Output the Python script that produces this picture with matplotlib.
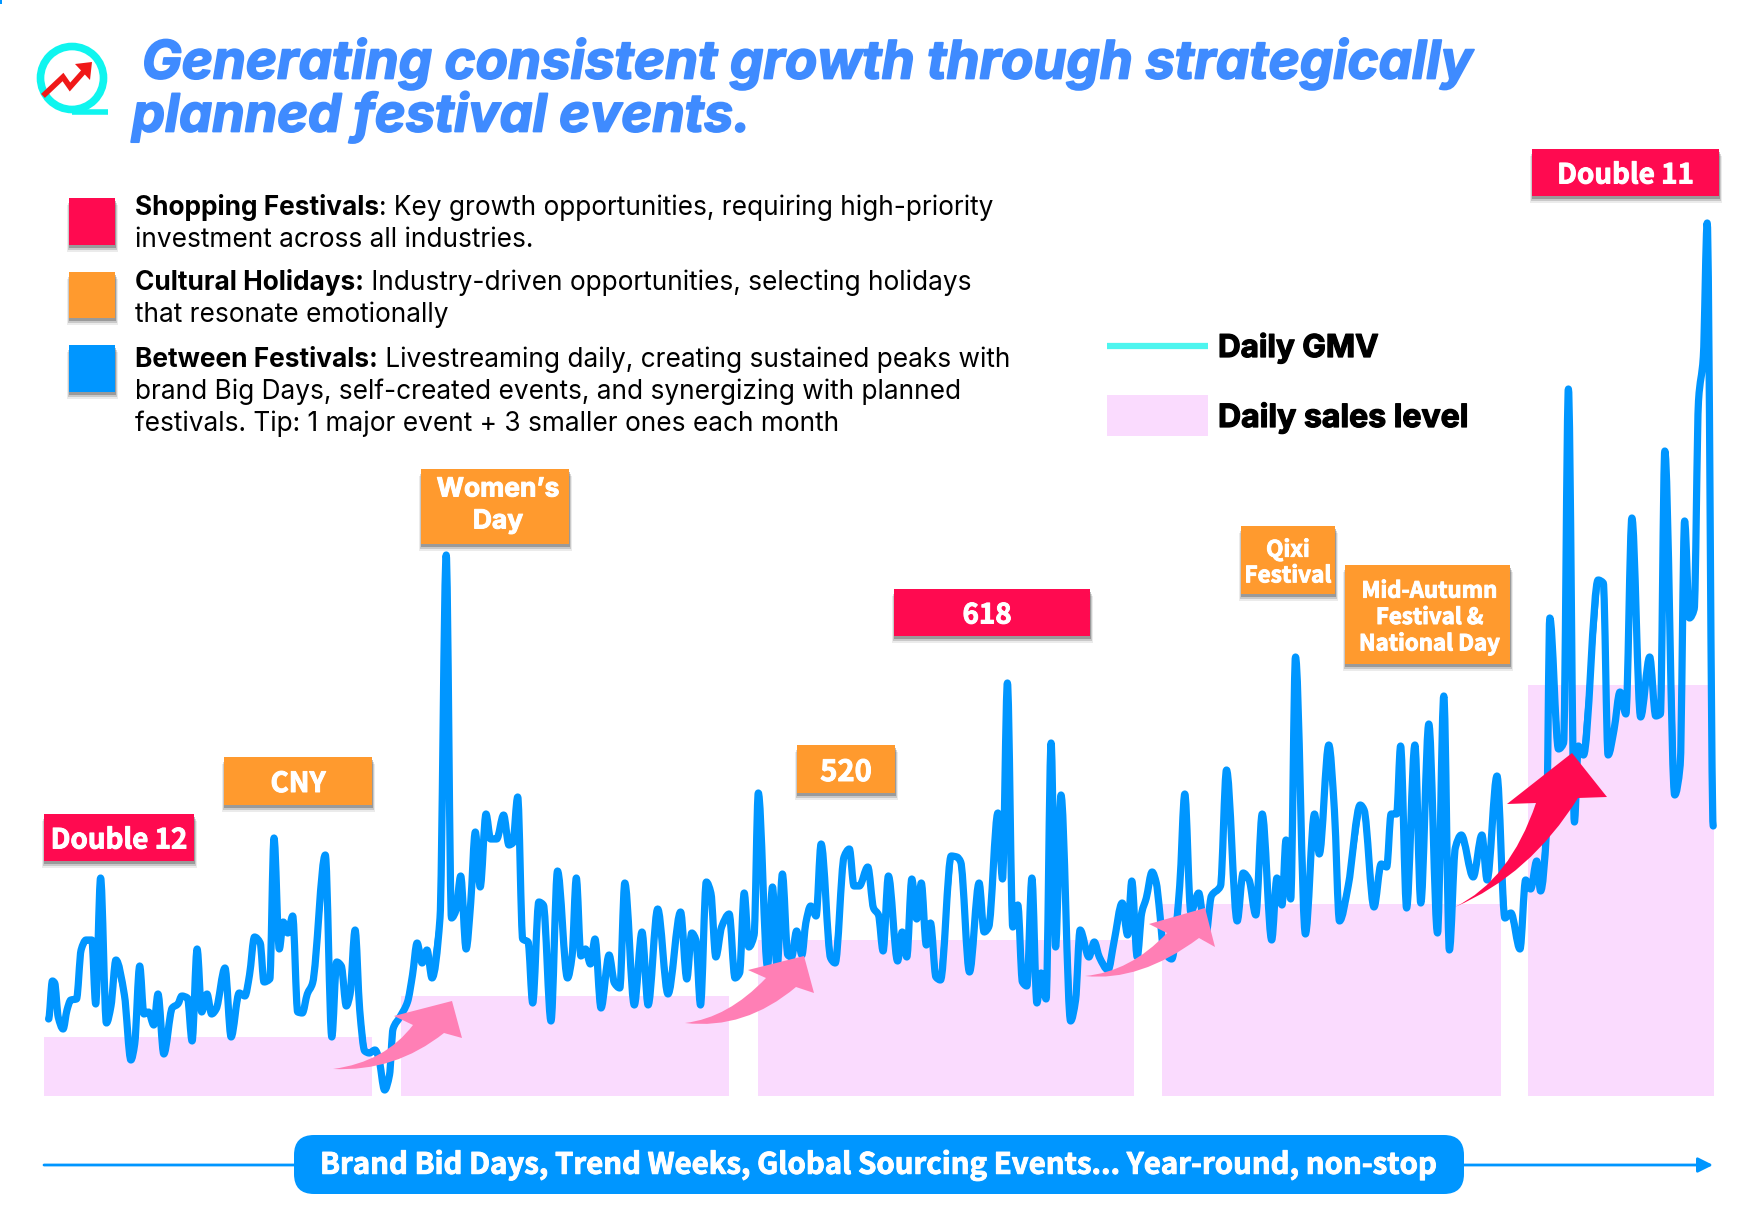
import matplotlib
matplotlib.use("Agg")
import matplotlib.pyplot as plt
import matplotlib.patheffects as pe
from matplotlib.patches import Rectangle, FancyBboxPatch, PathPatch, Circle
from matplotlib.path import Path

gmv_day = [48.6,52.4,54.7,58.2,63.1,67,70.8,76.5,81.1,86.1,91.8,95.7,100.6,106.4,111,115.9,124.4,130.9,134.7,139.7,143.9,148.5,153.8,158,163.8,172.2,177.9,181.8,187.5,192.1,197.1,201.7,207,211.6,216.2,225,231.1,239.2,244.9,249.5,254.5,260.2,264,269.8,274,279.3,283.2,287.8,292.7,297.7,302.3,307.3,312.6,325.3,331.8,336.7,341.3,346.3,350.1,355.1,359.7,364.7,369.3,375,378.8,384.6,389.5,393,399.9,407.5,412.5,417.1,422.1,427,432,440,446.2,451.5,456.1,460.7,466.1,470.7,475.3,480.2,486,490.6,496.7,503.6,508.9,512.8,517.7,522.7,528.1,532.7,538.8,543.4,551,557.5,567.5,572.1,576.3,580.9,585.5,590.4,595,601,609.1,614.4,619.8,624.8,634.3,642,648.1,657.7,668,680.6,686.8,691.7,695.9,700.5,706.3,710.9,715.8,721.6,729.2,735,739.6,744.2,748.8,754.1,758.3,767.5,772.5,777.1,782.4,787.8,791.6,796.6,801.9,805.8,810.7,816.1,821.1,830.6,835.2,844,849.4,854,859.3,867.8,873.5,878.5,883.1,888.4,897.6,902.2,906.8,911.8,916.7,921.3,926.3,930.5,935.9,940.5,951.2,956.9,960.7,969.5,979.1,984.1,988.7,997.9,1002.5,1007.4,1012.8,1017.8,1022.4,1026.9,1031.9,1036.9,1041.1,1046.1,1051.1,1055.6,1061,1070.6,1075.6,1080.1,1088.9,1094.3,1099.3,1108.1,1113.8,1122.2,1127.6,1131.8,1137.2,1141.7,1146.3,1152.1,1156.3,1159,1163.8,1171.7,1179.7,1184.8,1190.8,1198.7,1205.5,1211.4,1220.5,1226.5,1237.2,1243.1,1249.1,1255.8,1262.2,1271.7,1276.9,1282,1286,1290.7,1295.5,1305.4,1314.5,1319.3,1328.8,1334.4,1339.5,1348.2,1360.2,1364.1,1374,1381.2,1386.7,1391.1,1396.6,1400.6,1406.6,1414.9,1420.8,1428.8,1437.5,1443.8,1449.4,1455.3,1461.3,1473.2,1481.9,1487.1,1497,1504.9,1510.9,1520,1525.6,1530.7,1536.7,1540.6,1546.6,1549.8,1558.5,1563.6,1568.4,1574.4,1578.3,1583.5,1598.1,1603.3,1608.1,1614,1620,1625.9,1631.9,1640.6,1649.7,1655.7,1660.4,1664.8,1674.7,1680.2,1684.6,1689.4,1694.2,1698.5,1703.3,1707.2,1713.2]
gmv_value = [77,115,113,79,67,86,96,97,146,156,156,92,218,73,90,136,101,36,52,130,82,84,71,102,42,88,92,100,98,55,147,84,102,82,87,128,59,103,100,121,159,153,114,117,258,147,174,163,180,84,83,102,113,241,59,134,130,90,102,166,86,45,43,46,38,6,21,67,79,94,121,153,133,146,118,178,541,178,186,220,147,193,264,209,282,257,257,281,251,253,299,157,154,93,194,191,75,225,118,140,218,140,147,132,157,88,141,113,108,213,91,164,91,187,102,184,117,163,156,91,214,203,139,169,182,118,123,203,149,161,303,129,209,128,222,141,139,165,141,173,190,180,252,138,133,239,247,210,210,229,188,181,145,220,135,164,139,217,177,213,151,173,119,116,240,239,234,124,213,164,169,283,217,413,169,191,114,110,218,93,123,97,353,149,301,75,96,166,139,154,139,126,153,193,161,215,139,183,198,224,213,191,146,137,210,302,184,203,159,200,210,326,175,223,216,181,282,156,218,191,256,197,439,162,282,242,351,286,175,210,291,286,189,232,229,282,282,350,188,351,193,372,163,400,146,248,261,219,261,216,320,178,183,147,216,207,235,205,267,478,347,353,707,274,350,341,516,513,341,366,404,382,578,379,439,380,382,645,301,331,575,478,487,695,739,873,270]

band_start = [44, 401, 758, 1162, 1527.5]
band_end = [372, 729, 1133.5, 1501, 1713.5]
band_level = [59, 100, 156, 192, 411]

title_lines = ["Generating consistent growth through strategically", "planned festival events."]
legend_bold = ["Shopping Festivals", "Cultural Holidays:", "Between Festivals:"]
legend_rest = [": Key growth opportunities, requiring high-priority", " Industry-driven opportunities, selecting holidays", " Livestreaming daily, creating sustained peaks with"]
legend_plain = ["investment across all industries.", "that resonate emotionally", "brand Big Days, self-created events, and synergizing with planned", "festivals. Tip: 1 major event + 3 smaller ones each month"]
tag_labels = ["Double 12", "CNY", "Women’s\nDay", "520", "618", "Qixi\nFestival", "Mid-Autumn\nFestival &\nNational Day", "Double 11"]
banner_label = "Brand Bid Days, Trend Weeks, Global Sourcing Events... Year-round, non-stop"

RED, ORANGE, BLUE = "#ff0a50", "#ff9a2e", "#0096ff"
PINK, ARROW_PINK, TITLE = "#fadbfe", "#ff7fb5", "#3f8bff"
BASE = 1096

fig = plt.figure(figsize=(17.62, 12.26), dpi=100, facecolor="white")
ax = fig.add_axes([0, 0, 1, 1])
ax.set_xlim(0, 1762)
ax.set_ylim(BASE - 1226, BASE)
ax.axis("off")
rend = fig.canvas.get_renderer()

def Y(py):
    return BASE - py

def heavy(t, w, color):
    t.set_path_effects([pe.withStroke(linewidth=w, foreground=color)])

def fit(x, py, s, width, color="black", family="Inter", weight="normal", style="normal", ha="left", z=10, size=20, stroke=0):
    t = ax.text(x, Y(py), s, color=color, family=family, weight=weight, style=style, ha=ha, va="center", fontsize=size, zorder=z)
    w = t.get_window_extent(rend).width
    t.set_fontsize(size * width / w)
    if stroke:
        heavy(t, stroke, color)
    return t

def box(x0, x1, y0, y1, color, z=5):
    for grow, drop, a in ((2.5, 7, 0.10), (1.5, 5, 0.20), (0.5, 3, 0.35)):
        ax.add_patch(Rectangle((x0 - grow, Y(y1 + drop)), x1 - x0 + 2 * grow, y1 - y0, fc="#444444", ec="none", alpha=a, zorder=z))
    ax.add_patch(Rectangle((x0, Y(y1)), x1 - x0, y1 - y0, fc=color, ec="none", zorder=z + 0.5))

# sales-level blocks
ax.bar(band_start, band_level, width=[e - s for s, e in zip(band_start, band_end)], align="edge", color=PINK, zorder=1)

# daily GMV: the traced polyline, with a rounded curve through the same points on top
ax.plot(gmv_day, gmv_value, color=BLUE, lw=3.5, solid_joinstyle="round", solid_capstyle="round", zorder=3)
def smooth_path(xs, ys):
    n = len(xs)
    slopes = []
    for i in range(n):
        if i == 0 or i == n - 1:
            slopes.append(0.0)
            continue
        a, b = ys[i] - ys[i - 1], ys[i + 1] - ys[i]
        if a * b <= 0:
            slopes.append(0.0)
        else:
            d0, d1 = a / (xs[i] - xs[i - 1]), b / (xs[i + 1] - xs[i])
            slopes.append(2 * d0 * d1 / (d0 + d1))
    verts, codes = [(xs[0], ys[0])], [Path.MOVETO]
    for i in range(n - 1):
        h = (xs[i + 1] - xs[i]) / 3
        verts += [(xs[i] + h, ys[i] + slopes[i] * h), (xs[i + 1] - h, ys[i + 1] - slopes[i + 1] * h), (xs[i + 1], ys[i + 1])]
        codes += [Path.CURVE4] * 3
    return Path(verts, codes)
ax.add_patch(PathPatch(smooth_path(gmv_day, gmv_value), fc="none", ec=BLUE, lw=5.2, joinstyle="round", capstyle="round", zorder=3))

# growth arrows
def arrow(pts, color):
    tail, c1, neck, b1, tip, b2, inner, c2 = pts
    verts = [tail, c1, neck, b1, tip, b2, inner, c2, tail, tail]
    codes = [Path.MOVETO, Path.CURVE3, Path.CURVE3, Path.LINETO, Path.LINETO, Path.LINETO, Path.LINETO, Path.CURVE3, Path.CURVE3, Path.CLOSEPOLY]
    verts = [(x, Y(y)) for x, y in verts]
    ax.add_patch(PathPatch(Path(verts, codes), fc=color, ec="none", zorder=4))

arrow([(333, 1069), (385, 1062), (413, 1025), (394, 1016), (452, 1001), (462, 1038), (444, 1033), (395, 1072)], ARROW_PINK)
arrow([(685, 1023), (728, 1018), (766, 978), (748, 970), (804, 956), (814, 993), (796, 987), (745, 1030)], ARROW_PINK)
arrow([(1085, 976), (1130, 972), (1167, 933), (1149, 924), (1205, 908), (1215, 947), (1199, 938), (1140, 982)], ARROW_PINK)
arrow([(1455, 907), (1510, 880), (1536, 803), (1507, 804), (1572, 753), (1607, 797), (1578, 798), (1530, 875)], RED)

# event tags
tag_boxes = [(44, 194, 814, 861, RED), (224, 372, 757, 805, ORANGE), (421, 569, 469, 544, ORANGE), (797, 895, 745, 793, ORANGE),
             (894, 1090, 589, 636, RED), (1241, 1335, 526, 594, ORANGE), (1345, 1510, 565, 664, ORANGE), (1532, 1719, 149, 196, RED)]
tag_size = [20, 20, 19, 21, 20, 16.2, 16, 20]
tag_gap = [1, 1, 1.3, 1, 1, 1.15, 1.19, 1]
tag_shift = [0, 0, 3, 0, -5, 0, 2, 0]
for i, ((x0, x1, y0, y1, c), s, fs, gap, dx) in enumerate(zip(tag_boxes, tag_labels, tag_size, tag_gap, tag_shift)):
    box(x0, x1, y0, y1, c)
    fam = "Inter" if i == 2 else "Noto Sans CJK SC"
    t = ax.text((x0 + x1) / 2 + dx, Y((y0 + y1) / 2 + (-1 if i == 2 else 3)), s, color="white", family=fam, weight="bold", ha="center", va="center",
                fontsize=fs, linespacing=gap, zorder=7)
    heavy(t, 0.7, "white")

# title
fit(142, 64, title_lines[0], 1330, TITLE, weight="bold", style="italic", stroke=1.3)
fit(132, 117, title_lines[1], 618, TITLE, weight="bold", style="italic", stroke=1.3)

# icon
ax.add_patch(Circle((72, Y(78)), 31.5, fc="none", ec="#0ff5ef", lw=5.5, zorder=5))
ax.plot([72, 108], [Y(112), Y(112)], color="#0ff5ef", lw=4, zorder=5, solid_capstyle="butt")
ax.plot([45, 63, 70, 86], [Y(94), Y(77), Y(87), Y(69)], color="#f01818", lw=4, zorder=6, solid_joinstyle="miter")
ax.add_patch(plt.Polygon([(75, Y(64)), (92, Y(62)), (90, Y(80))], fc="#f01818", ec="none", zorder=6))

# key
for c, y0, y1 in [(RED, 198, 245), (ORANGE, 272, 318), (BLUE, 345, 392)]:
    box(69, 115, y0, y1, c)

LEG_SIZE = 18.9
def mixed(py, bold, rest):
    x = 135
    if bold:
        t = ax.text(x, Y(py), bold, family="Inter", weight="bold", fontsize=LEG_SIZE, va="baseline", color="black", zorder=10)
        x = t.get_window_extent(rend).x1
    ax.text(x, Y(py), rest, family="Inter", fontsize=LEG_SIZE, va="baseline", color="black", zorder=10)

mixed(215, legend_bold[0], legend_rest[0])
mixed(247, "", legend_plain[0])
mixed(290, legend_bold[1], legend_rest[1])
mixed(322, "", legend_plain[1])
mixed(367, legend_bold[2], legend_rest[2])
mixed(399, "", legend_plain[2])
mixed(431, "", legend_plain[3])

# series legend
ax.plot([1107, 1208], [Y(346), Y(346)], color="#4df5ef", lw=4.5, solid_capstyle="butt", zorder=5)
ax.add_patch(Rectangle((1107, Y(436)), 101, 41, fc=PINK, ec="none", zorder=5))
fit(1218, 348, "Daily GMV", 161, "black", weight="bold", stroke=0.9)
fit(1218, 418, "Daily sales level", 251, "black", weight="bold", stroke=0.9)

# timeline
ax.annotate("", xy=(1713, Y(1165)), xytext=(44, Y(1165)), arrowprops=dict(arrowstyle="-|>,head_length=0.9,head_width=0.45", color=BLUE, lw=2, shrinkA=0, shrinkB=0), zorder=5)
ax.add_patch(FancyBboxPatch((294 + 20, Y(1194) + 20), 1170 - 40, 59 - 40, boxstyle="round,pad=20,rounding_size=20", fc=BLUE, ec="none", zorder=6))
fit(320, 1165, banner_label, 1118, "white", family="Noto Sans CJK SC", weight="bold", stroke=0.7)

# corner mark
ax.add_patch(Rectangle((0, Y(4)), 2, 4, fc=BLUE, ec="none", zorder=5))

fig.savefig("out.png", dpi=100, facecolor="white")
